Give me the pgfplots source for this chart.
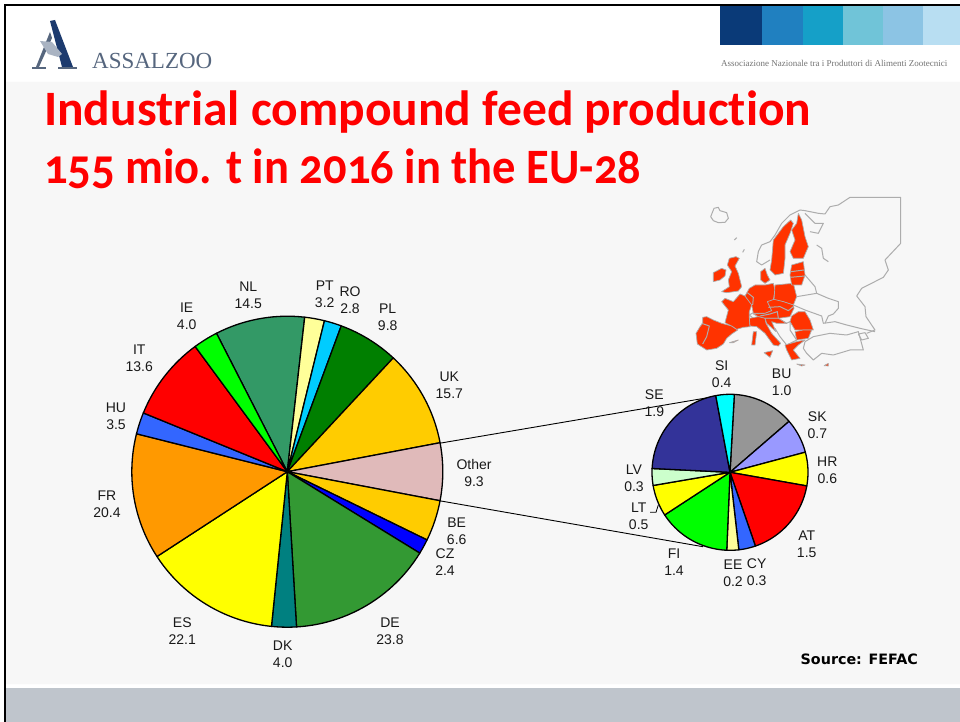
\documentclass[border=0pt]{standalone}
\usepackage{fontspec}
\setmainfont{Liberation Sans}
\newfontfamily\titlefont[Numbers=OldStyle,Ligatures=NoCommon]{Carlito}
\newfontfamily\logofont{Liberation Serif}
\newfontfamily\srcfont{DejaVu Sans}
\usepackage{pgfplots}
\pgfplotsset{compat=1.18}
\definecolor{bgc}{HTML}{F7F7F7}
\definecolor{bandc}{HTML}{BFC5CC}
\definecolor{mapred}{HTML}{FF3300}
\definecolor{mapgray}{HTML}{ADADAD}
\definecolor{logoc}{HTML}{56667E}
\definecolor{navy}{HTML}{1C3A6E}
\definecolor{HTML0}{HTML}{0A3A78}
\definecolor{HTML1}{HTML}{2080C0}
\definecolor{HTML2}{HTML}{15A0C8}
\definecolor{HTML3}{HTML}{70C4D8}
\definecolor{HTML4}{HTML}{8CC4E4}
\definecolor{HTML5}{HTML}{B8DEF2}
\definecolor{NLc}{HTML}{339966}
\definecolor{PTc}{HTML}{FFFF99}
\definecolor{ROc}{HTML}{00CCFF}
\definecolor{PLc}{HTML}{007F00}
\definecolor{UKc}{HTML}{FFCC00}
\definecolor{OTc}{HTML}{E0BABA}
\definecolor{CZc}{HTML}{0000FF}
\definecolor{DEc}{HTML}{339933}
\definecolor{DKc}{HTML}{008080}
\definecolor{FRc}{HTML}{FF9900}
\definecolor{HUc}{HTML}{3366FF}
\definecolor{BUc}{HTML}{969696}
\definecolor{SKc}{HTML}{9999FF}
\definecolor{LVc}{HTML}{CCFFCC}
\definecolor{SEc}{HTML}{333399}
\definecolor{YEc}{HTML}{FFFF00}
\definecolor{CYc}{HTML}{00FFFF}
\definecolor{REc}{HTML}{FF0000}
\definecolor{GRc}{HTML}{00FF00}
\definecolor{featherc}{HTML}{A9B3C2}
% wedge: cx cy r start span colour
\newcommand\pieslice[6]{%
  \xdef\coords{(#1,#2)}%
  \pgfmathtruncatemacro\nst{max(2,ceil(#5/2))}%
  \foreach \i in {0,...,\nst}{%
    \pgfmathsetmacro\ang{#4+#5*\i/\nst}%
    \pgfmathsetmacro\px{#1+#3*sin(\ang)}%
    \pgfmathsetmacro\py{#2-#3*cos(\ang)}%
    \xdef\coords{\coords (\px,\py)}%
  }%
  \xdef\coords{\coords (#1,#2)}%
  \edef\temp{\noexpand\addplot[fill=#6,draw=black,line width=1.3pt,line join=round] coordinates {\coords};}%
  \temp
}
% pie: cx cy r start total list
\newcommand\pie[6]{%
  \xdef\cur{#4}%
  \foreach \v/\c in {#6}{%
    \pgfmathsetmacro\sp{\v*360/#5}%
    \pieslice{#1}{#2}{#3}{\cur}{\sp}{\c}%
    \pgfmathsetmacro\nx{\cur+\sp}%
    \xdef\cur{\nx}%
  }%
}
\newcommand\lab[4]{%
  \node[anchor=base,inner sep=0pt,font=\fontsize{14}{17}\selectfont,text=black!90] at (axis cs:#1,#2+5) {#3};
  \node[anchor=base,inner sep=0pt,font=\fontsize{14}{17}\selectfont,text=black!90] at (axis cs:#1,#2+22) {#4};
}
\begin{document}
\begin{tikzpicture}
\begin{axis}[at={(0pt,0pt)},anchor=south west,scale only axis,width=960pt,height=722pt,
  xmin=0,xmax=960,ymin=0,ymax=722,y dir=reverse,hide axis]
% backgrounds
\addplot[fill=white,draw=none] coordinates {(0,0)(960,0)(960,722)(0,722)(0,0)};
\addplot[fill=bgc,draw=none] coordinates {(6,82)(960,82)(960,684)(6,684)(6,82)};
\addplot[fill=bandc,draw=none] coordinates {(6,688)(960,688)(960,722)(6,722)(6,688)};
\addplot[draw=black,line width=2pt] coordinates {(5,722)(5,5)(960,5)};
% banner
\addplot[fill=HTML0,draw=none] coordinates {(720,6)(762,6)(762,45)(720,45)};
\addplot[fill=HTML1,draw=none] coordinates {(762,6)(803,6)(803,45)(762,45)};
\addplot[fill=HTML2,draw=none] coordinates {(803,6)(843,6)(843,45)(803,45)};
\addplot[fill=HTML3,draw=none] coordinates {(843,6)(883,6)(883,45)(843,45)};
\addplot[fill=HTML4,draw=none] coordinates {(883,6)(923,6)(923,45)(883,45)};
\addplot[fill=HTML5,draw=none] coordinates {(923,6)(960,6)(960,45)(923,45)};
\node[anchor=base west,inner sep=0pt,text=black!55,font=\logofont\fontsize{9}{10}\selectfont] at (axis cs:721,66.5) {Associazione Nazionale tra i Produttori di Alimenti Zootecnici};
% logo
\addplot[fill=navy,draw=none] coordinates {(50,21)(55,20)(73,67)(62,67)(50,21)};
\addplot[fill=logoc,draw=none] coordinates {(50,32)(52,38)(39,67)(36,67)(50,32)};
\addplot[fill=logoc,draw=none] coordinates {(32,67)(46,67)(46,69)(32,69)};
\addplot[fill=logoc,draw=none] coordinates {(58,67)(77,67)(77,69)(58,69)};
\addplot[fill=featherc,draw=none] coordinates {(40,41)(52,42)(62,54)(58,57)(48,54)(40,41)};
\node[anchor=base west,inner sep=0pt,text=logoc,font=\logofont\fontsize{23}{27}\selectfont] at (axis cs:92,69) {ASSALZOO};
% title
\node[anchor=base west,inner sep=0pt,text=red,font=\titlefont\bfseries\fontsize{49.5}{58}\selectfont] at (axis cs:44,126) {Industrial compound feed production};
\node[anchor=base west,inner sep=0pt,text=red,xscale=0.94,font=\titlefont\bfseries\fontsize{49.5}{58}\selectfont] at (axis cs:44,183) {155 mio. t in 2016 in the EU-28};
% leader lines
\addplot[draw=black,line width=0.9pt] coordinates {(439.3,443.3)(716,396.3)};
\addplot[draw=black,line width=0.9pt] coordinates {(439.3,500.7)(703,546.7)};
% main pie
\pie{287.3}{471.7}{155.5}{-27.1}{155.7}{14.5/NLc,3.2/PTc,2.8/ROc,9.8/PLc,15.7/UKc,9.3/OTc,6.6/UKc,2.4/CZc,23.8/DEc,4.0/DKc,22.1/YEc,20.4/FRc,3.5/HUc,13.6/REc,4.0/GRc}
% small pie
\pie{730}{472.3}{78}{3.2}{8.92}{1.14/BUc,0.64/SKc,0.62/YEc,1.51/REc,0.31/HUc,0.22/PTc,1.35/GRc,0.58/YEc,0.31/LVc,1.90/SEc,0.34/CYc}
\addplot[draw=black,line width=0.8pt] coordinates {(650,512.3)(656,512.3)(658.3,505)};
% labels
\lab{248.3}{286}{NL}{14.5}
\lab{324.7}{285.7}{PT}{3.2}
\lab{350}{291}{RO}{2.8}
\lab{387.7}{308}{PL}{9.8}
\lab{449.3}{376}{UK}{15.7}
\lab{186.7}{307}{IE}{4.0}
\lab{139.3}{349}{IT}{13.6}
\lab{116}{407}{HU}{3.5}
\lab{107}{495}{FR}{20.4}
\lab{474}{464}{Other}{9.3}
\lab{456.7}{522}{BE}{6.6}
\lab{445}{553}{CZ}{2.4}
\lab{390}{622.3}{DE}{23.8}
\lab{282.7}{645}{DK}{4.0}
\lab{182.3}{622}{ES}{22.1}
\lab{721.7}{365}{SI}{0.4}
\lab{781.7}{373.3}{BU}{1.0}
\lab{817.3}{416}{SK}{0.7}
\lab{827.3}{461}{HR}{0.6}
\lab{806.7}{535}{AT}{1.5}
\lab{756.7}{563.3}{CY}{0.3}
\lab{733}{564}{EE}{0.2}
\lab{674}{553}{FI}{1.4}
\lab{638.7}{507.3}{LT}{0.5}
\lab{634}{469.3}{LV}{0.3}
\lab{654.3}{394.3}{SE}{1.9}
\node[anchor=base east,inner sep=0pt,text=black,font=\srcfont\bfseries\fontsize{14.3}{16}\selectfont] at (axis cs:918,664) {Source: FEFAC};
\end{axis}
% map
\begin{axis}[at={(690pt,352pt)},anchor=south west,scale only axis,width=230pt,height=180pt,
  xmin=0,xmax=690,ymin=0,ymax=540,y dir=reverse,hide axis,clip=false,
  gl/.style={draw=mapgray,line width=1pt,line join=round},
  rd/.style={fill=mapred,draw=mapgray,line width=0.7pt,line join=round}]
\addplot[gl] coordinates {(62,80)(72,55)(85,52)(90,62)(110,68)(115,85)(105,97)(85,98)(70,92)(62,80)};
\addplot[gl] coordinates {(133,150)(140,143)};
\addplot[gl] coordinates {(158,187)(163,178)};
\addplot[gl] coordinates {(330,60)(300,75)(275,100)(255,135)(240,155)(215,165)(205,185)(200,215)(215,225)(240,210)};
\addplot[gl] coordinates {(330,60)(345,62)(385,70)(405,72)(420,50)(445,45)(480,22)(632,22)(632,160)(585,210)(595,240)(580,262)(515,295)(500,318)(525,350)(528,380)(555,420)(530,430)};
\addplot[gl] coordinates {(345,70)(375,100)(400,100)(385,130)(360,125)};
\addplot[gl] coordinates {(380,165)(395,175)(400,205)(415,215)};
\addplot[gl] coordinates {(345,255)(375,290)(380,310)(415,325)(445,335)(445,355)(430,372)(415,378)(405,400)};
\addplot[gl] coordinates {(320,320)(380,310)};
\addplot[gl] coordinates {(310,345)(345,360)(395,378)(400,400)(435,395)(470,405)(510,415)(555,425)};
\addplot[gl] coordinates {(505,432)(525,428)(535,445)(515,450)(505,432)};
\addplot[gl] coordinates {(345,455)(370,440)(420,430)(470,435)(505,425)(520,480)(480,480)(430,495)(395,490)(370,510)(350,490)(340,475)(345,455)};
\addplot[gl] coordinates {(265,385)(290,400)(300,395)(300,420)(320,450)(290,465)(270,440)(255,415)};
\addplot[gl] coordinates {(178,375)(195,365)(205,380)(190,385)(178,375)};
% EU
\addplot[rd] coordinates {(38,382)(50,380)(70,390)(95,400)(125,408)(143,420)(125,432)(110,445)(100,462)(80,475)(50,480)(22,462)(18,430)(30,410)(38,400)(38,382)};
\addplot[gl] coordinates {(35,400)(58,408)(50,440)(38,462)};
\addplot[rd] coordinates {(105,325)(130,335)(150,312)(165,318)(180,335)(185,345)(178,365)(178,385)(180,410)(160,412)(140,418)(125,408)(105,398)(115,360)(95,335)(105,325)};
\addplot[rd] coordinates {(70,248)(95,235)(108,240)(105,258)(90,270)(70,275)(70,248)};
\addplot[rd] coordinates {(118,205)(138,200)(148,205)(135,228)(145,250)(155,290)(145,303)(110,308)(95,305)(118,290)(115,270)(125,245)(112,225)(118,205)};
\addplot[rd] coordinates {(212,245)(225,235)(232,255)(240,270)(225,280)(212,270)(212,245)};
\addplot[rd] coordinates {(178,295)(195,285)(225,285)(250,280)(255,300)(250,330)(235,340)(245,362)(225,370)(190,370)(185,345)(165,318)(178,295)};
\addplot[gl] coordinates {(172,308)(190,322)(188,345)};
\addplot[rd] coordinates {(255,285)(310,280)(320,320)(310,345)(280,335)(252,330)(255,285)};
\addplot[rd] coordinates {(232,335)(252,328)(280,335)(310,345)(312,355)(300,380)(265,385)(225,385)(205,380)(190,372)(225,370)(245,362)(232,335)};
\addplot[gl] coordinates {(235,352)(270,350)(295,362)(310,350)};
\addplot[gl] coordinates {(210,378)(240,372)(262,365)(265,385)};
\addplot[rd] coordinates {(305,378)(325,365)(345,365)(360,390)(370,420)(340,420)(315,420)(300,395)(305,378)};
\addplot[rd] coordinates {(315,425)(340,420)(365,420)(355,445)(320,450)(315,425)};
\addplot[rd] coordinates {(178,385)(205,380)(225,385)(228,400)(245,430)(272,460)(265,468)(250,465)(225,430)(200,410)(180,408)(178,385)};
\addplot[rd] coordinates {(222,488)(248,482)(240,502)(222,488)};
\addplot[rd] coordinates {(190,425)(200,425)(195,465)(185,465)(190,425)};
\addplot[rd] coordinates {(225,385)(265,385)(290,400)(260,400)(245,395)(258,425)(230,400)(225,385)};
\addplot[rd] coordinates {(285,465)(320,455)(345,450)(325,465)(310,480)(330,505)(305,510)(290,480)(285,465)};
\addplot[rd] coordinates {(320,522)(345,525)(335,528)(320,522)};
\addplot[rd] coordinates {(402,527)(415,520)(415,528)(402,527)};
\addplot[rd] coordinates {(118,458)(145,450)(130,458)(118,458)};
\addplot[rd] coordinates {(302,90)(310,100)(300,130)(285,165)(285,205)(280,250)(255,255)(240,240)(245,210)(250,150)(280,110)(302,90)};
\addplot[rd] coordinates {(325,70)(335,90)(345,140)(355,170)(340,205)(310,205)(300,185)(315,150)(305,120)(320,100)(325,70)};
\addplot[rd] coordinates {(305,225)(340,215)(345,255)(335,285)(305,285)(300,255)(305,225)};
\addplot[gl] coordinates {(303,245)(342,240)};
\addplot[gl] coordinates {(301,262)(345,258)};
\end{axis}
\end{tikzpicture}
\end{document}
